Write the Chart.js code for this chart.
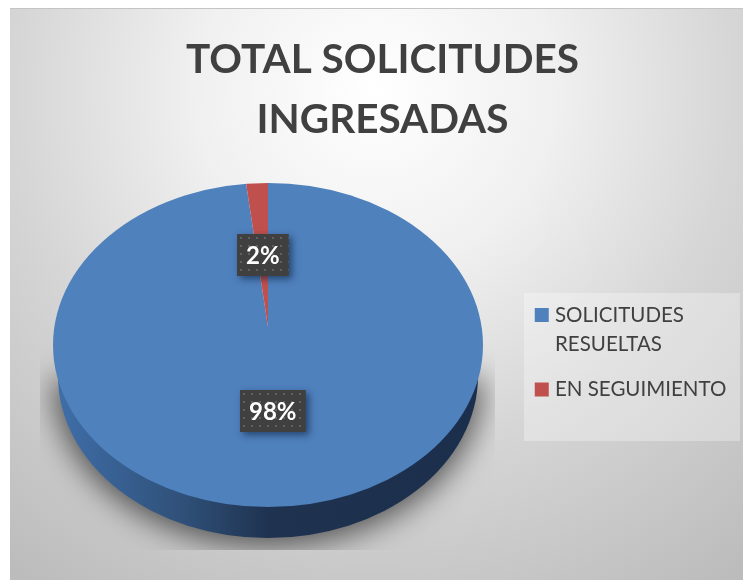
<!DOCTYPE html>
<html><head><meta charset="utf-8">
<style>html,body{margin:0;padding:0;background:#fff}canvas{display:block}</style>
<script src="https://cdn.jsdelivr.net/npm/chart.js@4/dist/chart.umd.min.js"></script>
</head><body><canvas id="c" width="743" height="580"></canvas>
<script>
const titleLines = ["TOTAL SOLICITUDES", "INGRESADAS"];
const categories = [["SOLICITUDES", "RESUELTAS"], "EN SEGUIMIENTO"];
const seriesValues = [98, 2];
const sliceColors = ["#4F81BD", "#C0504D"];

const CX = 268, CY = 327, R = 225, TILT = 0.8266;
const FACE_CY = 345, FACE_RX = 215, FACE_RY = 162;
const BASE_CY = 376, BASE_RX = 210;

const dotCanvas = document.createElement('canvas');
dotCanvas.width = 8; dotCanvas.height = 8;
{
  const d = dotCanvas.getContext('2d');
  d.fillStyle = '#404040'; d.fillRect(0, 0, 8, 8);
  d.fillStyle = '#606060'; d.fillRect(3, 3, 2, 2);
}

function wallPath(ctx, extra) {
  ctx.beginPath();
  ctx.ellipse(CX, BASE_CY, BASE_RX + extra, FACE_RY + extra, 0, 0, Math.PI);
  ctx.closePath();
}

const scene = {
  id: 'scene',
  beforeDraw(chart) {
    const ctx = chart.ctx;
    ctx.save();
    ctx.fillStyle = '#ffffff';
    ctx.fillRect(0, 0, 743, 580);
    const g = ctx.createRadialGradient(375, 90, 0, 375, 90, 600);
    g.addColorStop(0, '#ffffff');
    g.addColorStop(0.3, '#f0f0f0');
    g.addColorStop(0.6, '#d6d6d6');
    g.addColorStop(1, '#bcbcbc');
    ctx.fillStyle = g;
    ctx.fillRect(10, 9, 733, 571);
    ctx.fillStyle = '#c4c4c4';
    ctx.fillRect(10, 8, 733, 1);
    ctx.fillStyle = 'rgba(255,255,255,0.3)';
    ctx.fillRect(524, 293, 216, 148);
    ctx.restore();
  },
  afterLayout(chart) {
    const a = chart.chartArea;
    a.left = CX - R; a.right = CX + R; a.top = CY - R; a.bottom = CY + R;
    a.width = 2 * R; a.height = 2 * R;
    const t = chart.titleBlock;
    t.left = 22; t.right = 743; t.top = 29.5;
    const l = chart.legend;
    l.left = 522.25; l.right = 743; l.top = 288.25; l.bottom = 580;
  },
  beforeDatasetsDraw(chart) {
    const ctx = chart.ctx;
    const arcs = chart.getDatasetMeta(0).data;
    const cx = arcs[0].x, cy = arcs[0].y, r = arcs[0].outerRadius;

    ctx.save();
    ctx.beginPath();
    ctx.rect(40, 290, 455, 260);
    ctx.clip();
    ctx.shadowColor = 'rgba(0,0,0,0.6)';
    ctx.shadowBlur = 30;
    ctx.shadowOffsetX = 2000;
    ctx.shadowOffsetY = 3;
    ctx.fillStyle = '#000';
    ctx.translate(-2000, 0);
    wallPath(ctx, 5);
    ctx.fill();
    ctx.restore();

    ctx.save();
    const wg = ctx.createLinearGradient(CX - BASE_RX, 0, CX + BASE_RX, 0);
    wg.addColorStop(0, '#3F6EA8');
    wg.addColorStop(0.3, '#2F5078');
    wg.addColorStop(0.5, '#1F3350');
    wg.addColorStop(1, '#1B2F4D');
    ctx.fillStyle = wg;
    wallPath(ctx, 0);
    ctx.fill();
    ctx.restore();

    ctx.save();
    ctx.beginPath();
    ctx.ellipse(CX, FACE_CY, FACE_RX, FACE_RY, 0, 0, Math.PI * 2);
    ctx.clip();
    ctx.translate(cx, cy);
    ctx.scale(1, TILT);
    ctx.translate(-cx, -cy);
    arcs.forEach(arc => arc.draw(ctx));
    ctx.restore();

    const fractions = [0.45, 0.39];
    const nudge = [-2, 0];
    arcs.forEach((arc, i) => {
      const mid = (arc.startAngle + arc.endAngle) / 2;
      const x = cx + Math.cos(mid) * r * fractions[i] + nudge[i];
      const y = cy + Math.sin(mid) * r * fractions[i] * TILT;
      const label = seriesValues[i] + '%';
      ctx.save();
      ctx.font = 'bold 24px Lato';
      const w = ctx.measureText(label).width + 18, h = 42;
      const bx = Math.round(x - w / 2), by = Math.round(y - h / 2);
      ctx.save();
      ctx.shadowColor = 'rgba(10,30,60,0.6)';
      ctx.shadowBlur = 7;
      ctx.shadowOffsetX = 3;
      ctx.shadowOffsetY = 3;
      ctx.fillStyle = '#404040';
      ctx.fillRect(bx, by, w, h);
      ctx.restore();
      ctx.translate(bx, by);
      ctx.fillStyle = ctx.createPattern(dotCanvas, 'repeat');
      ctx.fillRect(0, 0, w, h);
      ctx.fillStyle = '#ffffff';
      ctx.textAlign = 'center';
      ctx.textBaseline = 'middle';
      ctx.fillText(label, w / 2, h / 2 + 1);
      ctx.restore();
    });
    return false;
  }
};

new Chart(document.getElementById('c'), {
  type: 'pie',
  plugins: [scene],
  data: {
    labels: categories,
    datasets: [{ data: seriesValues, backgroundColor: sliceColors, borderWidth: 0 }]
  },
  options: {
    responsive: false,
    animation: false,
    devicePixelRatio: 1,
    plugins: {
      tooltip: { enabled: false },
      title: {
        display: true,
        text: titleLines,
        color: '#404040',
        padding: 0,
        font: { family: 'Lato', weight: 'bold', size: 40.5, lineHeight: 60 / 40.5 }
      },
      legend: {
        display: true,
        position: 'right',
        align: 'start',
        labels: {
          boxWidth: 6,
          boxHeight: 6,
          padding: 16.5,
          color: '#404040',
          font: { family: 'Lato', size: 20.5, lineHeight: 29 / 20.5 },
          generateLabels: () => categories.map((text, i) => ({
            text,
            fillStyle: sliceColors[i],
            strokeStyle: sliceColors[i],
            lineWidth: 8,
            lineJoin: 'miter',
            fontColor: '#404040',
            index: i
          }))
        }
      }
    }
  }
});
</script></body></html>
